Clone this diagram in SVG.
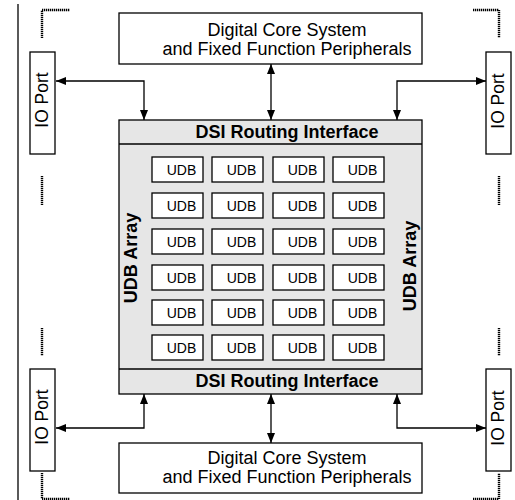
<svg xmlns="http://www.w3.org/2000/svg" width="515" height="500" viewBox="0 0 515 500">
<style>
.box{fill:#fff;stroke:#000;stroke-width:1.3}
.gray{fill:#e6e6e6;stroke:#000;stroke-width:1.3}
.t{font-family:"Liberation Sans",Arial,sans-serif;fill:#000}
.dig{font-size:18px;text-anchor:middle}
.dsi{font-size:18px;font-weight:bold;text-anchor:middle}
.udb{font-size:14px;text-anchor:middle}
.arr{font-size:18px;font-weight:bold;text-anchor:middle}
.io{font-size:17.5px;text-anchor:middle}
.dot{fill:none;stroke:#000;stroke-width:2.4;stroke-dasharray:1.3 0.7}
.conn{fill:none;stroke:#000;stroke-width:1.3}
</style>
<defs>
<marker id="ah" viewBox="0 0 10 8" refX="10" refY="4" markerWidth="10" markerHeight="8" markerUnits="userSpaceOnUse" orient="auto-start-reverse">
<path d="M0,0 L10,4 L0,8 z" fill="#000"/>
</marker>
</defs>
<rect width="515" height="500" fill="#fff"/>
<line x1="18" y1="4" x2="18" y2="500" stroke="#000" stroke-width="1.3"/>
<g id="dotted">
<path class="dot" d="M42,38 V10 H70"/>
<path class="dot" d="M473,10 H499 V38"/>
<path class="dot" d="M42,176 V205"/>
<path class="dot" d="M42,328 V356"/>
<path class="dot" d="M499,176 V205"/>
<path class="dot" d="M499,328 V356"/>
<path class="dot" d="M42,473 V499 H70"/>
<path class="dot" d="M473,499 H499 V473"/>
</g>
<g id="core-top">
<rect class="box" x="119" y="13" width="303" height="51"/>
<text class="t dig" x="287" y="36">Digital Core System</text>
<text class="t dig" x="287" y="55">and Fixed Function Peripherals</text>
</g>
<g id="core-bottom">
<rect class="box" x="119" y="443" width="303" height="50"/>
<text class="t dig" x="287" y="464">Digital Core System</text>
<text class="t dig" x="287" y="483">and Fixed Function Peripherals</text>
</g>
<g id="io-tl">
<rect class="box" x="30" y="52" width="25" height="102"/>
<text class="t io" transform="translate(48,100) rotate(-90)">IO Port</text>
</g>
<g id="io-tr">
<rect class="box" x="486" y="52" width="25" height="102"/>
<text class="t io" transform="translate(504,101) rotate(-90)">IO Port</text>
</g>
<g id="io-bl">
<rect class="box" x="30" y="369" width="25" height="102"/>
<text class="t io" transform="translate(48,417) rotate(-90)">IO Port</text>
</g>
<g id="io-br">
<rect class="box" x="486" y="369" width="25" height="102"/>
<text class="t io" transform="translate(504,418) rotate(-90)">IO Port</text>
</g>
<g id="udb-array">
<rect class="gray" x="119" y="120" width="303" height="274"/>
<line x1="119" y1="144" x2="422" y2="144" stroke="#000" stroke-width="1.3"/>
<line x1="119" y1="369" x2="422" y2="369" stroke="#000" stroke-width="1.3"/>
<text class="t dsi" x="287" y="138">DSI Routing Interface</text>
<text class="t dsi" x="287" y="387">DSI Routing Interface</text>
<text class="t arr" transform="translate(137,258) rotate(-90)">UDB Array</text>
<text class="t arr" transform="translate(416,266) rotate(-90)">UDB Array</text>
</g>
<g id="udbs">
<g id="udb-r1">
<rect class="box" x="152" y="157" width="51" height="25"/><text class="t udb" x="181.5" y="175">UDB</text>
<rect class="box" x="212" y="157" width="51" height="25"/><text class="t udb" x="241.5" y="175">UDB</text>
<rect class="box" x="273" y="157" width="51" height="25"/><text class="t udb" x="302.5" y="175">UDB</text>
<rect class="box" x="333" y="157" width="51" height="25"/><text class="t udb" x="362.5" y="175">UDB</text>
</g>
<g id="udb-r2">
<rect class="box" x="152" y="193" width="51" height="25"/><text class="t udb" x="181.5" y="211">UDB</text>
<rect class="box" x="212" y="193" width="51" height="25"/><text class="t udb" x="241.5" y="211">UDB</text>
<rect class="box" x="273" y="193" width="51" height="25"/><text class="t udb" x="302.5" y="211">UDB</text>
<rect class="box" x="333" y="193" width="51" height="25"/><text class="t udb" x="362.5" y="211">UDB</text>
</g>
<g id="udb-r3">
<rect class="box" x="152" y="229" width="51" height="25"/><text class="t udb" x="181.5" y="247">UDB</text>
<rect class="box" x="212" y="229" width="51" height="25"/><text class="t udb" x="241.5" y="247">UDB</text>
<rect class="box" x="273" y="229" width="51" height="25"/><text class="t udb" x="302.5" y="247">UDB</text>
<rect class="box" x="333" y="229" width="51" height="25"/><text class="t udb" x="362.5" y="247">UDB</text>
</g>
<g id="udb-r4">
<rect class="box" x="152" y="265" width="51" height="25"/><text class="t udb" x="181.5" y="283">UDB</text>
<rect class="box" x="212" y="265" width="51" height="25"/><text class="t udb" x="241.5" y="283">UDB</text>
<rect class="box" x="273" y="265" width="51" height="25"/><text class="t udb" x="302.5" y="283">UDB</text>
<rect class="box" x="333" y="265" width="51" height="25"/><text class="t udb" x="362.5" y="283">UDB</text>
</g>
<g id="udb-r5">
<rect class="box" x="152" y="300" width="51" height="25"/><text class="t udb" x="181.5" y="318">UDB</text>
<rect class="box" x="212" y="300" width="51" height="25"/><text class="t udb" x="241.5" y="318">UDB</text>
<rect class="box" x="273" y="300" width="51" height="25"/><text class="t udb" x="302.5" y="318">UDB</text>
<rect class="box" x="333" y="300" width="51" height="25"/><text class="t udb" x="362.5" y="318">UDB</text>
</g>
<g id="udb-r6">
<rect class="box" x="152" y="335" width="51" height="25"/><text class="t udb" x="181.5" y="353">UDB</text>
<rect class="box" x="212" y="335" width="51" height="25"/><text class="t udb" x="241.5" y="353">UDB</text>
<rect class="box" x="273" y="335" width="51" height="25"/><text class="t udb" x="302.5" y="353">UDB</text>
<rect class="box" x="333" y="335" width="51" height="25"/><text class="t udb" x="362.5" y="353">UDB</text>
</g>
</g>
<g id="connectors">
<path class="conn" d="M144,120 V81 H56" marker-start="url(#ah)" marker-end="url(#ah)"/>
<path class="conn" d="M271,64 V120" marker-start="url(#ah)" marker-end="url(#ah)"/>
<path class="conn" d="M397,120 V81 H486" marker-start="url(#ah)" marker-end="url(#ah)"/>
<path class="conn" d="M144,394 V428 H56" marker-start="url(#ah)" marker-end="url(#ah)"/>
<path class="conn" d="M271,394 V443" marker-start="url(#ah)" marker-end="url(#ah)"/>
<path class="conn" d="M397,394 V428 H486" marker-start="url(#ah)" marker-end="url(#ah)"/>
</g>
</svg>
